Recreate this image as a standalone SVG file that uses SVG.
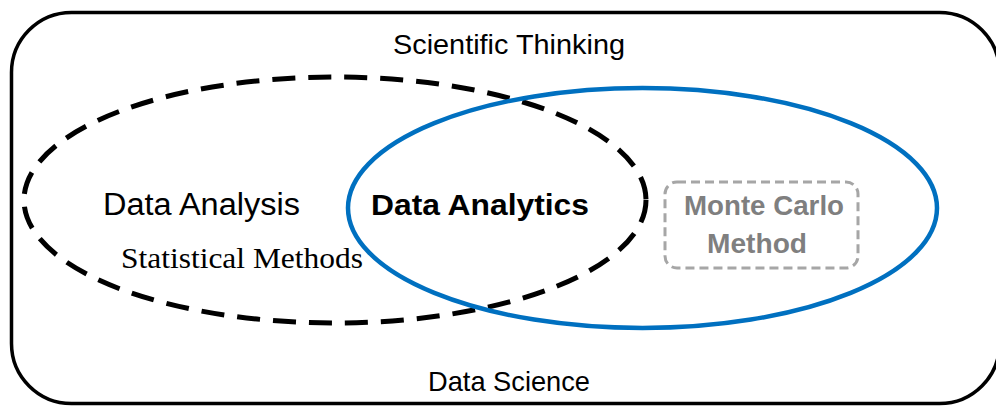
<svg xmlns="http://www.w3.org/2000/svg" width="996" height="406" viewBox="0 0 996 406">
  <style>
    .frame { fill: none; stroke: #000; stroke-width: 3.5; }
    .analysis { fill: none; stroke: #000; stroke-width: 5; stroke-dasharray: 23 13; }
    .analytics { fill: none; stroke: #0070C0; stroke-width: 4.5; }
    .mc-box { fill: none; stroke: #A6A6A6; stroke-width: 3; stroke-dasharray: 9 5; }
    .sans { font-family: "Liberation Sans", Arial, sans-serif; fill: #000; }
    .serif { font-family: "Liberation Serif", "Times New Roman", serif; fill: #000; }
    .bold { font-weight: bold; }
    .grey { fill: #7F7F7F; }
  </style>

  <!-- outer domain: Data Science / Scientific Thinking -->
  <g id="data-science">
    <rect class="frame" x="11.5" y="12.5" width="988" height="391" rx="60" ry="60"/>
    <text class="sans" x="393" y="54" font-size="28" textLength="232" lengthAdjust="spacingAndGlyphs">Scientific Thinking</text>
    <text class="sans" x="428" y="391" font-size="28" textLength="162" lengthAdjust="spacingAndGlyphs">Data Science</text>
  </g>

  <g id="connectors">
    <!-- Data Analysis region (dashed) -->
    <ellipse id="data-analysis-outline" class="analysis" cx="335" cy="200" rx="311" ry="123"/>
    <!-- Data Analytics region -->
    <ellipse id="data-analytics-outline" class="analytics" cx="642.5" cy="208" rx="294.5" ry="120"/>
  </g>

  <g id="data-analysis">
    <text class="sans" x="103" y="215" font-size="31" textLength="197" lengthAdjust="spacingAndGlyphs">Data Analysis</text>
    <text class="serif" x="121" y="268" font-size="30" textLength="242" lengthAdjust="spacingAndGlyphs">Statistical Methods</text>
  </g>

  <g id="data-analytics">
    <text class="sans bold" x="371" y="215" font-size="29" textLength="218" lengthAdjust="spacingAndGlyphs">Data Analytics</text>
  </g>

  <g id="monte-carlo">
    <rect class="mc-box" x="665" y="182" width="193" height="86" rx="12" ry="12"/>
    <text class="sans bold grey" x="684" y="215" font-size="27" textLength="160" lengthAdjust="spacingAndGlyphs">Monte Carlo</text>
    <text class="sans bold grey" x="707" y="253" font-size="27" textLength="100" lengthAdjust="spacingAndGlyphs">Method</text>
  </g>
</svg>
